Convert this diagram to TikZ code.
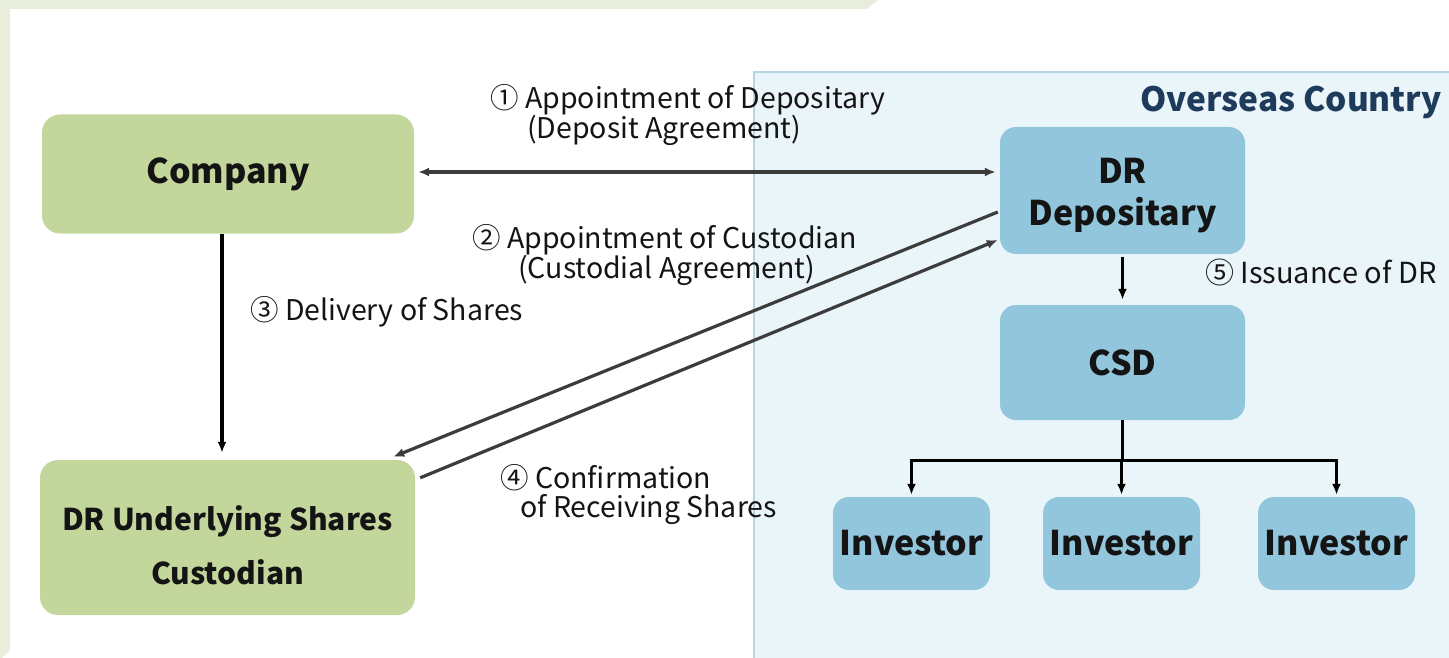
\documentclass[tikz,border=0pt]{standalone}
\usepackage{fontspec}
\setmainfont{Noto Sans CJK KR}
\usetikzlibrary{arrows.meta,calc}
\definecolor{frameg}{HTML}{E9EDDC}
\definecolor{greenbox}{HTML}{C3D69B}
\definecolor{bluebox}{HTML}{92C6DC}
\definecolor{overfill}{HTML}{EAF5F9}
\definecolor{overline}{HTML}{B5D6E3}
\definecolor{navy}{HTML}{1F3B5C}
\definecolor{arrowgray}{HTML}{3C3C3C}
\definecolor{txt}{HTML}{141414}
\begin{document}
\begin{tikzpicture}[x=1pt,y=-1pt,
  boxtext/.style={font=\fontsize{34}{42}\selectfont\bfseries, text=txt, align=center, inner sep=0pt},
  greenb/.style={boxtext, fill=greenbox, rounded corners=18pt},
  blueb/.style={boxtext, fill=bluebox, rounded corners=16pt},
  lbl/.style={font=\fontsize{28.5}{32}\selectfont, text=txt, anchor=west, inner sep=0pt},
  grayarrow/.style={draw=arrowgray, line width=3.2pt, -{Latex[length=11pt,width=9pt]}},
  blackarrow/.style={draw=black, line width=3.2pt, -{Latex[length=11pt,width=9pt]}},
  blackline/.style={draw=black, line width=3.2pt}
]
\useasboundingbox (0,0) rectangle (1449,658);
\begin{scope}
\clip (0,0) rectangle (1449,658);
\fill[white] (0,0) rectangle (1449,658);
\fill[frameg] (0,0) -- (878,0) -- (867,9) -- (10,9) -- (10,650) -- (2,658) -- (0,658) -- cycle;
\filldraw[fill=overfill, draw=overline, line width=2pt] (754,72) rectangle (1470,680);
\end{scope}

\node[font=\fontsize{33.5}{38}\selectfont\bfseries, text=navy, anchor=east, inner sep=0pt] (ovc) at (1442,102) {Overseas Country};

\node[greenb, minimum width=372pt, minimum height=119pt] (company) at (228,174) {Company};
\node[greenb, font=\fontsize{30}{40}\selectfont\bfseries, minimum width=375pt, minimum height=155pt] (cust) at (227.5,537.5) {\rule{0pt}{40pt}DR Underlying Shares\\[14pt]Custodian};
\node[blueb, minimum width=245pt, minimum height=127pt] (dep) at (1122.5,190.5) {\rule{0pt}{36pt}DR\\Depositary};
\node[blueb, minimum width=245pt, minimum height=115pt] (csd) at (1122.5,362.5) {CSD};
\node[blueb, minimum width=157pt, minimum height=93pt] (inv1) at (911.5,543.5) {Investor};
\node[blueb, minimum width=157pt, minimum height=93pt] (inv2) at (1121.5,543.5) {Investor};
\node[blueb, minimum width=157pt, minimum height=93pt] (inv3) at (1336.5,543.5) {Investor};

% labels
\node[lbl] (l1a) at (490,100) {① Appointment of Depositary};
\node[lbl] (l1b) at (527,130) {(Deposit Agreement)};
\node[lbl] (l2a) at (472,240) {② Appointment of Custodian};
\node[lbl] (l2b) at (518,270) {(Custodial Agreement)};
\node[lbl] (l3) at (250,312) {③ Delivery of Shares};
\node[lbl] (l4a) at (500,478) {④ Confirmation};
\node[lbl] (l4b) at (520,510) {of Receiving Shares};
\node[lbl, font=\fontsize{29}{32}\selectfont] (l5) at (1205,272) {⑤ Issuance of DR};

% connectors
\draw[grayarrow, {Latex[length=11pt,width=9pt]}-{Latex[length=11pt,width=9pt]}, shorten <=4pt, shorten >=4pt] (company.east |- 0,172) -- (dep.west |- 0,172);
\draw[grayarrow, shorten >=0pt] ($(dep.west)+(-2,21.5)$) -- ($(cust.north east)+(-22,-3)$);
\draw[grayarrow] ($(cust.north east)+(5,18)$) -- ($(dep.west)+(-2,49.5)$);
\draw[blackarrow, shorten >=7pt] ($(company.south)+(-6,0)$) -- ($(cust.north)+(-5.5,0)$);
\draw[blackarrow, shorten <=3pt, shorten >=5pt] (dep.south) -- (csd.north);
\coordinate (j) at ($(csd.south)+(0,40)$);
\draw[blackline] (csd.south) -- (j);
\draw[blackline, line cap=rect] (inv1.north |- j) -- (inv3.north |- j);
\draw[blackarrow, shorten >=2pt] (inv1.north |- j) -- (inv1.north);
\draw[blackarrow, shorten >=2pt] (inv2.north |- j) -- (inv2.north);
\draw[blackarrow, shorten >=2pt] (inv3.north |- j) -- (inv3.north);
\end{tikzpicture}
\end{document}
